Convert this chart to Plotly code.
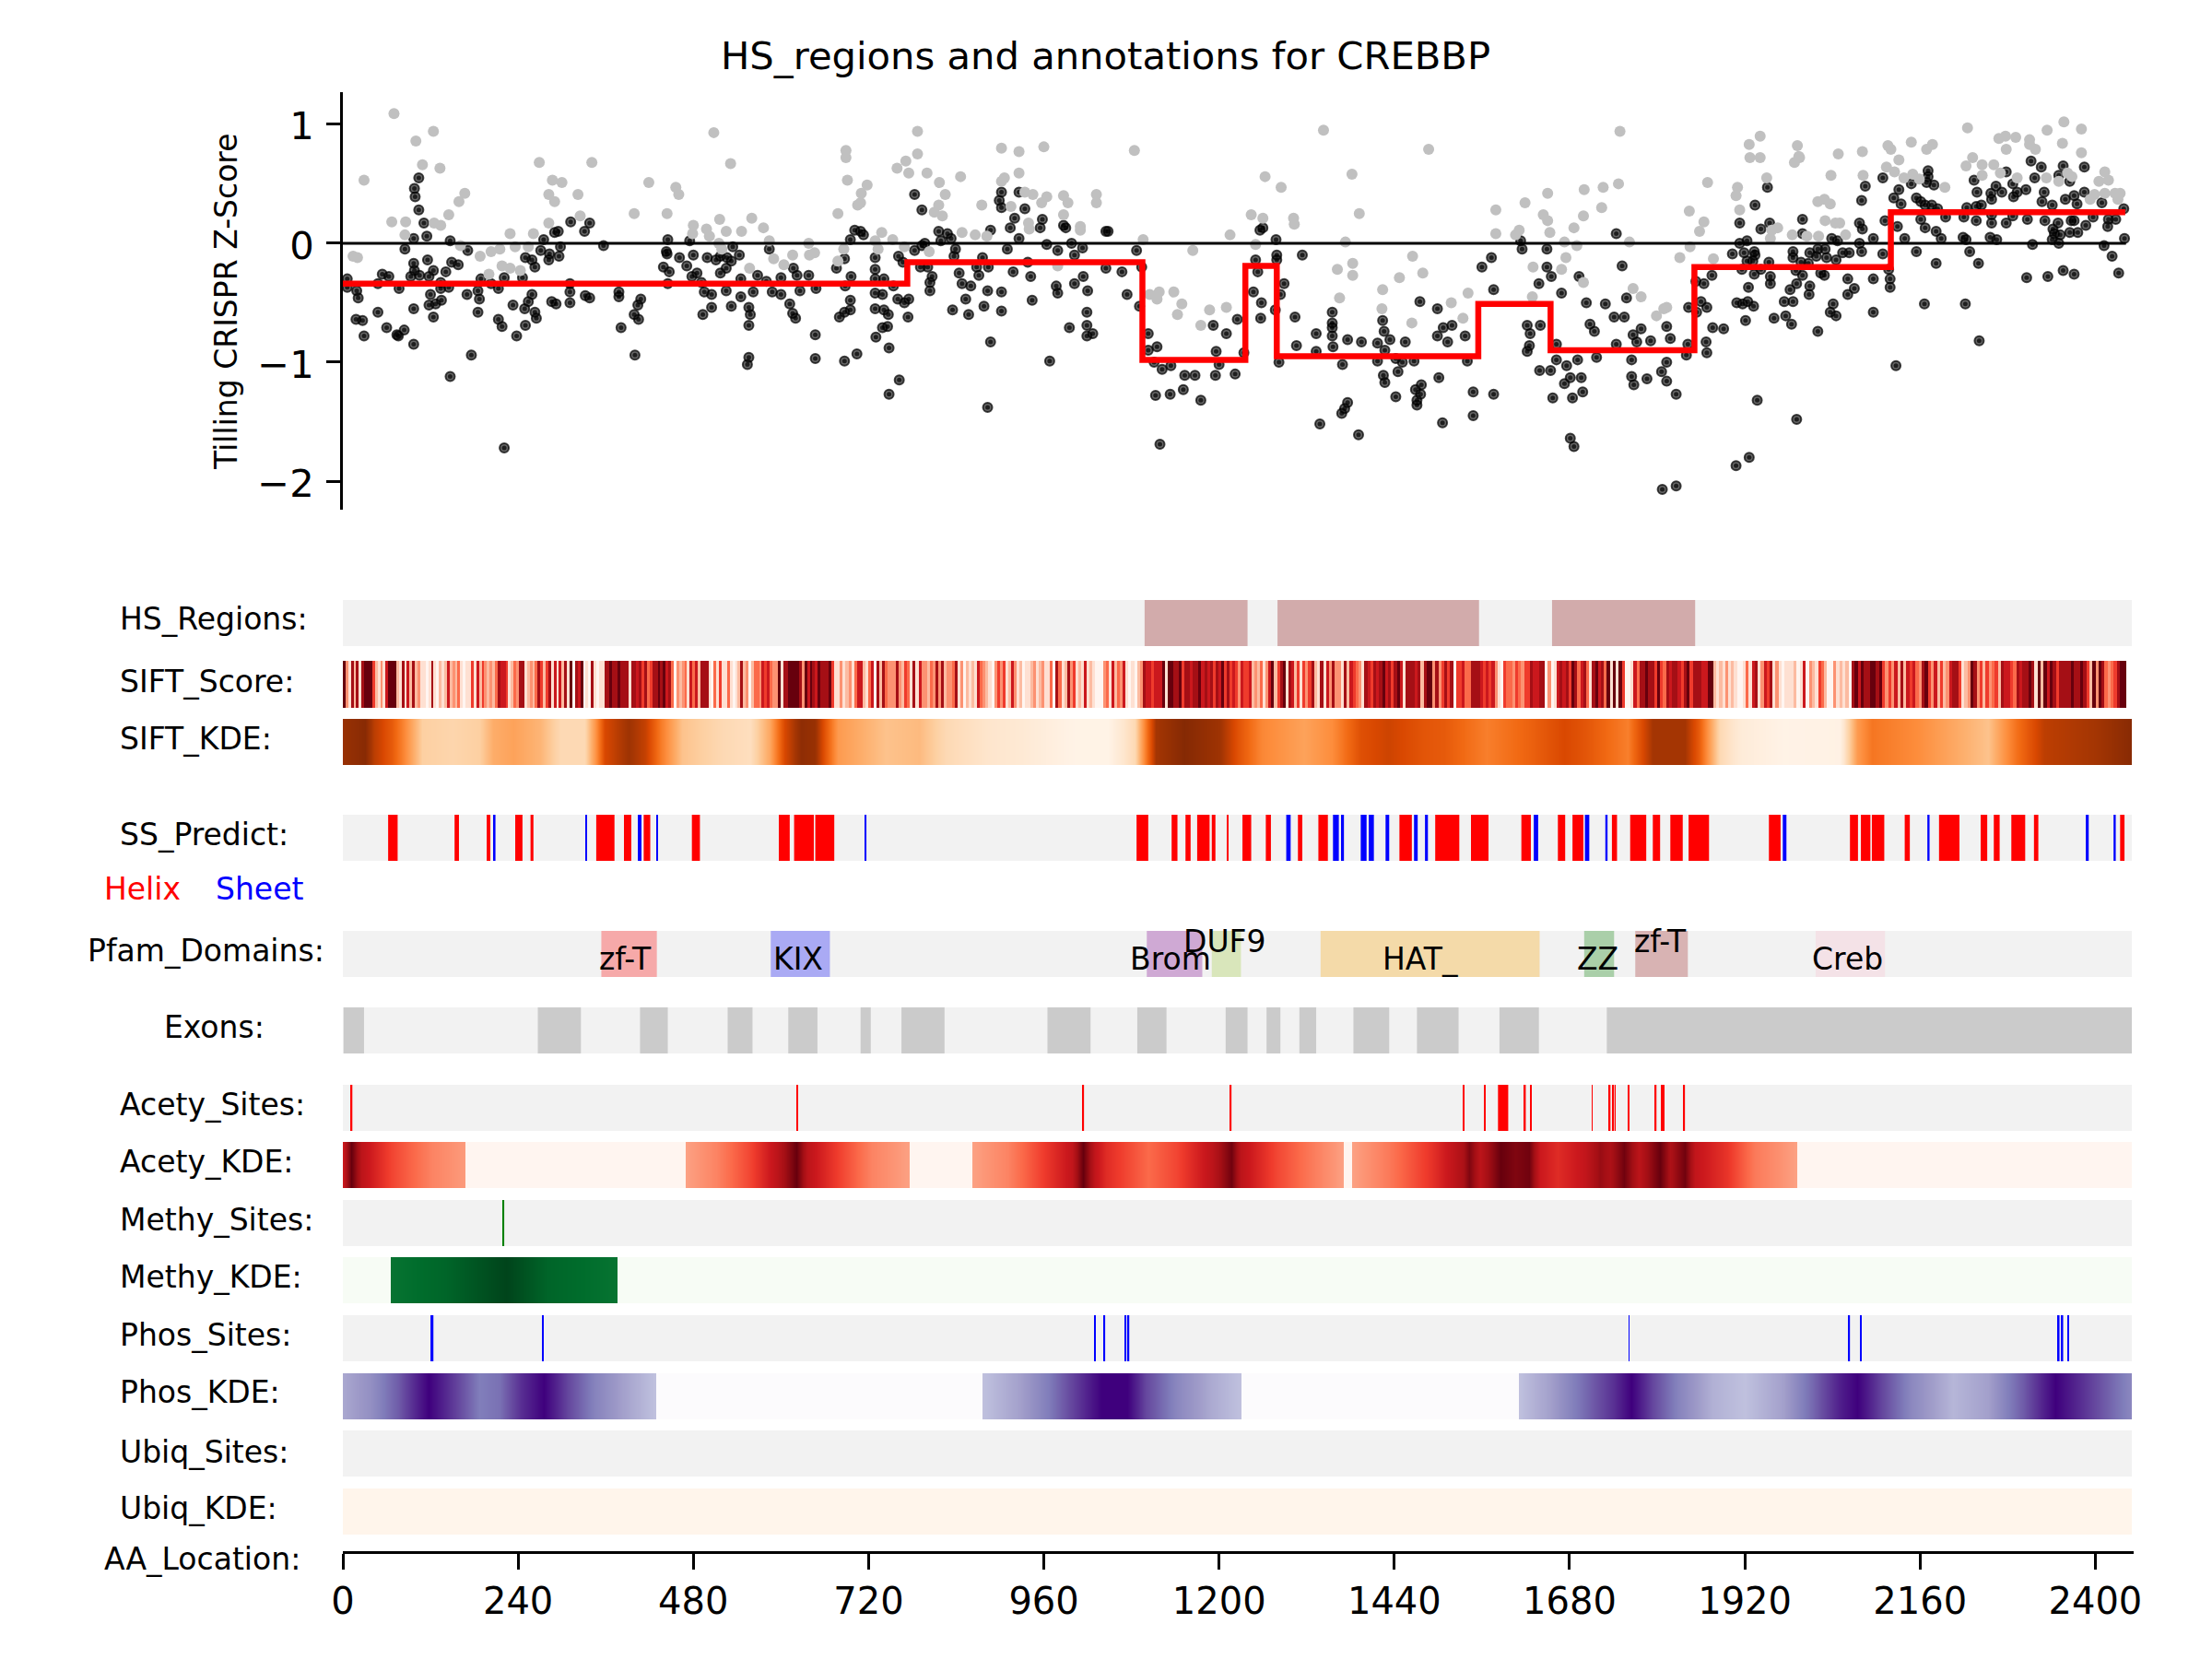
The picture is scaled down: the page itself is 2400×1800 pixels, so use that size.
import numpy as np
import plotly.graph_objects as go

TITLE = "HS_regions and annotations for CREBBP"
GENE_END = 2442
X_TICKS = [0, 240, 480, 720, 960, 1200, 1440, 1680, 1920, 2160, 2400]
Y_TICKS = [-2, -1, 0, 1]

BLACK_POINTS = [
(6,-.30),(6,-.37),(19,-.40),(21,-.46),(18,-.64),(27,-.65),(29,-.78),(48,-.58),(60,-.71),(74,-.77),(76,-.78),(84,-.73),(97,-.85),(97,-.55),(48,-.34),(54,-.26),(63,-.28),(77,-.38),(85,-.05),(97,.04),(115,.06),(111,.17),(104,.28),(99,.39),(98,.46),(104,.55),(116,-.14),(97,-.17),(98,-.23),(93,-.28),(105,-.27),(118,-.28),(124,-.23),(120,-.43),(118,-.52),(127,-.51),(135,-.48),(124,-.62),(134,-.33),(134,-.38),(145,-.37),(141,-.24),(149,-.16),(158,-.18),(147,.02),(171,-.06),(170,-.43),(147,-1.12),(176,-.94),(185,-.58),(187,-.47),(185,-.40),(189,-.30),(203,-.34),(213,-.38),(213,-.64),(218,-.70),(233,-.52),(238,-.78),(250,-.69),(249,-.55),(254,-.49),(259,-.43),(263,-.58),(265,-.63),(221,-1.72),(221,-.29),(246,-.29),(250,-.12),(259,-.14),(263,-.20),(271,-.06),(275,.03),(282,-.14),(283,-.09),(296,-.11),(298,-.03),(290,.09),(295,.10),(312,.18),(338,.17),(331,.10),(357,-.02),(311,-.34),(311,-.41),(311,-.50),(286,-.49),(292,-.51),(332,-.44),(338,-.46),(378,-.41),(378,-.45),(408,-.47),(404,-.52),(399,-.60),(405,-.64),(381,-.71),(400,-.94),
(439,-.20),(447,-.24),(445,-.34),(445,.03),(443,-.07),(444,-.09),(461,-.12),(471,-.19),(475,.02),(480,-.10),(478,-.28),(485,-.25),(491,-.33),(495,-.41),(505,-.43),(499,-.12),(511,-.14),(517,-.11),(526,-.12),(532,-.15),(534,-.03),(543,-.10),(517,-.25),(525,-.21),(525,-.40),(505,-.54),(493,-.60),(532,-.53),(545,-.30),(545,-.45),(562,-.41),(568,-.27),(556,-.54),(558,-.60),(556,-.69),(556,-.96),(554,-1.02),(580,-.32),(588,-.41),(600,-.29),(600,-.43),(612,-.51),(616,-.59),(620,-.63),(617,-.21),(622,-.27),(626,-.40),(638,-.27),(648,-.38),(584,-.05),(647,-.77),(647,-.97),(676,-.21),(687,-.13),(695,.03),(701,.11),(709,.10),(713,.07),(729,-.12),(729,-.22),(729,-.30),(696,-.28),(688,-.36),(695,-.48),(695,-.56),(680,-.62),(687,-.58),(687,-.99),(704,-.93),(730,-.79),(748,-.88),(762,-1.15),(748,-1.27),(739,-.71),(746,-.70),(729,-.55),(741,-.56),(747,-.60),(729,-.42),(739,-.43),(741,-.30),(754,-.36),(760,-.47),(769,-.50),(775,-.47),(774,-.62),(761,-.11),(767,-.16),
(783,.41),(793,.28),(783,-.06),(793,-.02),(797,.0),(791,-.20),(801,-.20),(807,-.28),(804,-.33),(804,-.40),(816,.10),(828,.08),(833,.04),(839,-.05),(837,-.11),(819,.02),(844,-.25),(848,-.34),(860,-.36),(871,-.27),(876,-.12),(868,-.20),(884,-.20),(887,.11),(853,-.47),(835,-.56),(857,-.60),(878,-.53),(883,-.40),(902,-.41),(902,-.57),(887,-.83),(883,-1.38),(918,-.24),(910,-.05),(926,.04),(938,-.16),(942,-.28),(944,-.48),(902,.43),(899,.36),(902,.30),(926,.43),(934,.29),(920,.21),(914,.13),(955,.13),(958,.20),(964,-.01),(979,-.06),(977,-.36),(979,-.42),(990,.13),(987,.15),(998,0),(1002,-.10),(1013,-.04),(1002,-.34),(1014,-.28),(1020,-.40),(1019,-.58),(995,-.71),(1019,-.69),(1019,-.78),(1027,-.76),(968,-.99),(1045,-.21),(1045,.10),
(1048,.10),(1067,-.24),(1087,-.06),(1094,-.20),(1074,-.43),(1091,-.53),(1103,-.76),(1115,-.87),(1103,-.90),(1111,-1.0),(1122,-1.06),(1134,-1.03),(1153,-1.11),(1167,-1.11),(1151,-1.23),(1133,-1.27),(1113,-1.28),(1175,-1.32),(1119,-1.69),(1192,-.69),(1210,-.76),(1225,-.64),(1196,-.91),(1234,-.92),(1200,-1.02),(1195,-1.11),(1222,-1.10),(1250,-.14),(1253,-.24),(1247,-.41),(1258,-.50),(1257,-.63),(1256,.11),(1260,.13),(1278,.03),(1279,-.10),(1279,-.14),(1314,-.10),(1289,-.34),(1284,-.43),(1277,-.56),(1304,-.62),(1306,-.86),(1282,-1.0),(1333,-.76),(1333,-.91),(1355,-.58),(1355,-.67),(1355,-.71),(1355,-.78),(1356,-.87),(1376,-.81),(1395,-.83),(1369,-1.02),(1417,-.84),(1417,-.99),(1424,-.65),(1426,-.74),(1434,-.81),(1427,-.90),(1455,-.83),(1442,-.97),(1451,-1.0),(1467,-.99),(1425,-1.11),(1427,-1.17),(1445,-1.08),(1501,-1.13),(1477,-1.19),(1469,-1.23),(1476,-1.27),(1471,-1.32),(1471,-1.36),(1442,-1.29),(1376,-1.34),(1372,-1.39),(1368,-1.43),(1338,-1.52),(1391,-1.61),(1506,-1.51),(1548,-1.45),(1548,-1.25),(1576,-1.27),(1475,-.49),(1499,-.55),(1519,-.69),(1507,-.71),(1499,-.78),(1513,-.83),(1537,-.78),(1540,-.99),(1560,-.20),(1573,-.12),(1576,-.39),
(1613,.02),(1615,-.05),(1622,-.69),(1626,-.76),(1640,-.69),(1625,-.86),(1622,-.91),(1649,-.05),(1649,-.20),(1655,-.28),(1638,-.34),(1693,-.28),(1669,-.42),(1703,-.50),(1729,-.51),(1662,-.85),(1662,-.98),(1676,-1.03),(1691,-.98),(1717,-.96),(1639,-1.07),(1654,-1.07),(1696,-1.13),(1681,-1.13),(1673,-1.18),(1698,-1.25),(1684,-1.30),(1657,-1.30),(1681,-1.64),(1686,-1.71),(1744,.08),(1752,-.19),(1758,-.46),(1708,-.68),(1714,-.74),(1741,-.62),(1755,-.62),(1767,-.77),(1772,-.83),(1778,-.72),(1744,-.85),(1791,-.82),(1813,-.70),(1818,-.80),(1765,-.98),(1765,-1.12),(1768,-1.19),(1786,-1.14),(1813,-1.0),(1806,-1.08),(1813,-1.16),(1826,-1.27),(1807,-2.07),(1826,-2.04),(1842,-.85),(1840,-.94),(1868,-.92),(1867,-.83),(1876,-.71),(1891,-.72),(1937,-1.32),(1991,-1.48),(1908,-1.87),(1926,-1.80),(1984,-.68),(2020,-.74),(2127,-1.03),
(1986,-.07),(1986,-.12),(1997,-.16),(2007,-.17),(2009,-.08),(2018,-.11),(2020,-.05),(2030,-.05),(2032,-.12),(2045,-.14),(2054,-.08),(2063,-.08),(2039,.04),(2047,.02),(2077,.0),(2080,-.07),(2096,.04),(2109,-.09),(1999,.08),(1999,.20),(1942,.12),(1954,.17),(1923,.02),(1913,0),(1903,-.09),(1919,-.08),(1933,-.07),(1934,-.10),(1931,-.15),(1923,-.15),(1953,-.16),(1916,-.22),(1933,-.26),(1942,-.22),(1990,-.23),(1999,-.27),(2024,-.25),(2029,-.27),(2117,-.22),(1955,-.28),(1955,-.34),(1925,-.37),(2009,-.36),(2008,-.43),(1991,-.34),(1982,-.39),(2061,-.30),(2070,-.38),(2061,-.43),(2096,-.30),(2119,-.30),(2119,-.37),(1864,-.34),(1875,-.27),(1853,-.32),(1860,-.49),(1868,-.54),(1843,-.54),(1854,-.58),(1909,-.50),(1917,-.51),(1924,-.49),(1932,-.53),(1974,-.49),(1986,-.49),(2041,-.51),(2037,-.58),(2045,-.61),(1960,-.63),(1976,-.61),(1921,-.65),(2096,-.58),
(1951,.47),(1934,.32),(1913,.17),(2109,.55),(2085,.48),(2080,.36),(2112,.19),(2131,.45),(2124,.38),(2134,.33),(2129,.14),(2139,.04),(2077,.17),(2081,.12),
(2155,.38),(2161,.35),(2167,.32),(2176,.32),(2184,.29),(2169,.51),(2171,.61),(2171,.56),(2179,.49),(2148,.50),(2161,.20),(2167,.13),(2182,.10),(2189,.04),(2195,.22),(2220,.22),(2224,.30),(2237,.31),(2244,.32),(2234,.53),(2238,.43),(2258,.37),(2257,.42),(2264,.48),(2272,.43),(2287,.50),(2288,.39),(2293,.43),(2305,.45),(2278,.60),(2317,.55),(2312,.69),(2326,.64),(2356,.65),(2385,.64),(2330,.43),(2327,.35),(2341,.32),(2359,.37),(2350,.57),(2365,.52),(2371,.40),(2385,.43),(2375,.33),(2237,.19),(2258,.24),(2258,.17),(2278,.17),(2287,.23),(2307,.20),(2331,.19),(2349,.17),(2342,.12),(2344,.08),(2352,.07),(2365,.09),(2376,.09),(2367,.19),(2371,.19),(2387,.15),(2397,.22),(2409,.34),(2418,.20),(2428,.20),(2417,.14),(2439,.29),(2256,.05),(2265,.03),(2219,.05),(2223,.03),(2314,-.01),(2341,.03),(2350,0),(2412,-.02),(2440,.04),(2155,-.07),(2228,-.07),(2182,-.17),(2240,-.17),(2423,-.11),(2356,-.23),(2371,-.26),(2432,-.25),(2306,-.29),(2335,-.28),(2166,-.51),(2222,-.51),(2241,-.82),
]

GRAY_POINTS = [
(70,1.09),(100,.86),(124,.94),(109,.66),(133,.63),(29,.53),(67,.18),(86,.18),(20,-.12),(14,-.11),(85,.07),(125,.17),(134,.15),(145,.24),(159,.35),(167,.42),(161,-.02),(188,-.11),(203,-.07),(215,-.05),(200,-.26),(218,-.19),(229,-.21),(243,-.23),(229,.08),(236,-.03),(254,-.03),(261,.08),(269,.68),(287,.53),(300,.51),(282,.41),(290,.35),(322,.41),(341,.68),(282,.17),(325,.23),(419,.51),(456,.47),(460,.41),(399,.25),(444,.25),(480,.15),(479,.08),(498,.12),(502,.06),(516,.20),(525,.10),(546,.10),(560,.21),(576,.13),(508,.93),(531,.67),(515,0),(519,-.05),(557,-.21),(584,.02),(590,-.13),(604,-.18),(616,-.10),(638,0),(639,-.10),(646,-.08),(678,.25),(689,.78),(689,.72),(691,.53),(718,.49),(710,.42),(709,.34),(705,.32),(678,-.15),(686,-.05),(729,.02),(738,.09),(753,.03),(733,-.05),(769,-.03),(759,.63),(771,.69),(787,.75),(787,.94),(775,.59),(800,.59),(817,.51),(825,.41),(846,.56),(816,.32),(810,.26),(821,.23),(848,.09),(866,.07),(882,.06),(803,-.07),(902,.80),(926,.77),(960,.81),(906,.55),(902,.52),(926,.59),(915,.31),(934,.43),(945,.41),(964,.39),(957,.34),(939,.17),(940,.12),(875,.32),(987,.40),(993,.34),(987,.24),(1010,.14),(1010,.11),(1032,.41),(1032,.34),(979,-.19),
(1084,.78),(1343,.95),(1487,.79),(1749,.94),(1263,.56),(1285,.47),(1382,.58),(1244,.24),(1260,.21),(1302,.21),(1303,.16),(1392,.25),(1215,.07),(1250,-.01),(1373,.01),(1164,-.06),(1096,.03),(1118,-.41),(1105,-.43),(1115,-.47),(1138,-.41),(1149,-.51),(1143,-.60),(1187,-.56),(1210,-.54),(1175,-.69),(1362,-.22),(1383,-.17),(1383,-.27),(1365,-.46),(1424,-.39),(1423,-.55),(1465,-.11),(1447,-.29),(1479,-.25),(1464,-.67),(1541,-.42),(1518,-.50),(1534,-.63),(1579,.28),(1619,.34),(1650,.42),(1579,.08),(1611,.11),(1606,.07),(1644,.24),(1650,.19),(1653,.09),(1686,.13),(1673,.01),(1690,-.02),(1675,-.12),(1630,-.20),(1669,-.22),(1629,-.45),(1699,-.33),(1700,.45),(1726,.47),(1747,.50),(1724,.30),(1699,.23),(1762,.01),(1767,-.38),(1778,-.45),(1799,-.61),(1813,-.54),(1809,-.55),(1831,-.12),
(1926,.83),(1941,.90),(1992,.82),(1994,.73),(2048,.75),(2081,.77),(2116,.82),(2120,.79),
(1869,.51),(1910,.47),(1908,.40),(1913,.28),(1844,.27),(1864,.18),(1858,.10),(1845,-.03),(1877,-.13),(1950,.55),(1957,.11),(1965,.13),(1955,.04),(1985,.07),(2005,.06),(2021,.06),(2030,.19),(2044,.17),(2050,.17),(2058,.07),(2020,.35),(2029,.37),(2037,.33),(2038,.57),(2082,.57),(2114,.64),(2125,.60),(2131,.70),(2138,.55),(1988,.68),(1995,.72),(1927,.72),(1941,.72),
(2225,.97),(2148,.85),(2169,.79),(2177,.83),(2232,.72),(2223,.65),(2245,.66),(2245,.57),(2261,.66),(2270,.59),(2268,.88),(2277,.90),(2278,.79),(2291,.89),(2310,.87),(2310,.83),(2318,.79),(2293,.55),(2334,.95),(2357,1.02),(2381,.96),(2355,.84),(2381,.76),(2333,.55),(2362,.59),(2368,.56),(2350,.52),(2413,.60),(2405,.52),(2418,.53),(2399,.41),(2393,.37),(2413,.42),(2427,.42),(2434,.42),(2431,.37),(2194,.47),(2150,.58),(2159,.54),
]

STEP_X = [0, 773, 1095, 1236, 1279, 1555, 1654, 1851, 2120, 2441]
STEP_Y = [-.34, -.16, -.98, -.19, -.95, -.51, -.90, -.20, .26, .26]

HS_REGIONS = [(1098, 1239), (1280, 1556), (1656, 1852)]

# stripes of the SIFT score strip, read block by block (colour level 0-8)
SIFT_SPANS = [(0, 654), (654, 1310), (1310, 1966), (1966, GENE_END)]
SIFT_LEVELS = [
"8317271788852131688821716272311017102126232410115162532324766512437712324752571616271807680107101177877877717767574577878674032341646277710415114101272302443656433817788887386876 8".replace(" ", ""),
"777851131231466214 60727433373254171633243737 23347 130 2121643 210 353 512 631 2011 23123 1140 7 412 7 351 216 121 0003 4162 436 101023 7665 666 81 887 78577677 86767 57685 75653 6556 2324136 825781 7625".replace(" ", ""),
"153572171637331 72654 31 765767 86757 861 777672 78837 35757 055 644 777656 56310 544354355 76677 0301 67675 87467 417 86748 18185 001 647787 75854 76776578 577766 88 21213121 001 4167 1365713".replace(" ", ""),
"10111201 60321 54200 312120 786877 88785 35362726 56437 8536252 36775 123 8735 253452 76654767 78718286 875 777 787787 52838 74345 788".replace(" ", ""),
]
SS_HELIX = [(62,75),(153,159),(197,202),(236,246),(257,261),(347,372),(385,395),(412,421),(478,489),(597,612),(618,645),(647,673),(1087,1103),(1135,1143),(1154,1161),(1170,1187),(1190,1195),(1211,1212),(1232,1244),(1264,1271),(1308,1314),(1336,1349),(1447,1464),(1496,1529),(1545,1569),(1614,1627),(1664,1674),(1684,1699),(1738,1745),(1763,1785),(1794,1804),(1818,1835),(1843,1871),(1953,1969),(2064,2075),(2079,2092),(2094,2111),(2139,2146),(2186,2214),(2243,2252),(2261,2269),(2285,2304),(2316,2322),(2434,2440)]
SS_SHEET = [(207,209),(332,334),(404,409),(430,431),(715,717),(1292,1298),(1356,1364),(1367,1371),(1394,1402),(1405,1412),(1428,1433),(1467,1472),(1482,1486),(1631,1637),(1701,1707),(1729,1732),(1972,1977),(2170,2173),(2387,2391),(2425,2428)]

PFAM_NAMES = ["zf-T", "KIX", "Brom", "DUF9", "HAT_", "ZZ", "zf-T", "Creb"]
PFAM_SPANS = [(354,430),(586,667),(1101,1177),(1190,1230),(1339,1639),(1700,1741),(1770,1842),(2017,2112)]
PFAM_COLORS = ["#f6a9a9","#aaaaf4","#cfa9d4","#d9e6bb","#f4daa9","#aacfa9","#d8b3b3","#f4e2e7"]
PFAM_LABEL_X = [387,623,1134,1208,1475,1719,1804,2061]
PFAM_LABEL_ROW = [.4,.4,.4,.78,.4,.4,.78,.4]

EXONS = [(1,29),(267,326),(407,445),(527,561),(610,650),(709,723),(765,824),(965,1024),(1088,1128),(1209,1239),(1265,1284),(1310,1333),(1384,1433),(1471,1528),(1584,1638),(1731,2450)]
ACETY_SITES = [(11,13),(621.5,622.5),(1013,1015),(1215,1217),(1534,1536),(1563,1565),(1582,1593),(1594,1596),(1618,1620),(1626,1628),(1710.5,1711.5),(1734,1736),(1739,1741),(1742,1743),(1760.5,1761.5),(1797,1799),(1806,1807),(1808,1810),(1836,1838)]
METHY_SITES = [(219,221)]
PHOS_SITES = [(120,124),(273,275),(1029,1031),(1042,1044),(1071,1073),(1075,1077),(1761,1762),(2062,2064),(2078,2080),(2349,2351),(2354,2356),(2362,2363)]

SIFT_KDE_X = [0,30,43,67,81,108,150,187,206,233,270,298,331,345,358,391,414,437,465,520,558,585,604,627,646,660,678,743,789,826,882,928,1002,1048,1084,1103,1113,1152,1200,1224,1258,1316,1355,1393,1432,1480,1509,1567,1625,1673,1702,1760,1794,1838,1857,1886,1915,1973,2050,2074,2094,2156,2205,2253,2292,2330,2398,2449,2450]
SIFT_KDE_Z = [.92,.97,.82,.68,.55,.25,.22,.25,.38,.42,.35,.2,.2,.45,.75,.9,.8,.55,.3,.2,.17,.4,.75,.95,.92,.7,.45,.3,.33,.2,.13,.1,.02,.02,.2,.65,.88,.98,.9,.72,.52,.42,.5,.72,.78,.7,.68,.55,.65,.75,.7,.55,.88,.88,.68,.2,.08,.02,.03,.45,.58,.5,.4,.3,.6,.82,.88,.97,.97]

ACETY_KDE_X = [0,11,25,67,122,167,168,468,469,511,558,595,621,636,678,724,775,776,861,862,910,965,998,1014,1030,1045,1103,1142,1190,1217,1229,1277,1326,1370,1371,1381,1382,1432,1490,1533,1543,1557,1586,1606,1625,1640,1664,1702,1722,1736,1755,1775,1804,1818,1838,1852,1896,1934,1991,1992,2449,2450]
ACETY_KDE_Z = [.75,1,.8,.6,.42,.35,0,0,.33,.42,.6,.8,1,.8,.62,.42,.33,0,0,.33,.42,.65,.78,1,.78,.68,.5,.6,.8,.98,.8,.6,.45,.33,0,0,.33,.45,.65,.85,.95,.8,1,.95,.98,.75,.68,.78,.9,.85,.98,.8,1,.85,.98,.78,.65,.45,.33,0,0,0]

METHY_KDE_X = [0,65,66,141,224,280,375,376,2449,2450]
METHY_KDE_Z = [0,0,.85,.9,1,.9,.85,0,0,0]

PHOS_KDE_X = [0,39,76,118,150,187,215,243,275,308,345,382,428,429,875,876,928,965,1011,1039,1074,1099,1142,1190,1230,1231,1609,1610,1654,1702,1741,1765,1794,1828,1876,1920,1973,2012,2050,2074,2108,2147,2205,2253,2301,2345,2388,2449,2450]
PHOS_KDE_Z = [.45,.55,.72,1,.82,.62,.66,.85,1,.78,.6,.48,.36,0,0,.36,.48,.62,.85,1,1,.78,.58,.44,.36,0,0,.36,.48,.68,.85,1,.78,.6,.42,.36,.48,.68,.9,1,.78,.58,.4,.48,.72,1,.82,.58,.58]

REDS = ["#fff5f0","#fee0d2","#fcbba1","#fc9272","#fb6a4a","#ef3b2c","#cb181d","#a50f15","#67000d"]
ORANGES = ["#fff5eb","#fee6ce","#fdd0a2","#fdae6b","#fd8d3c","#f16913","#d94801","#a63603","#7f2704"]
GREENS = ["#f7fcf5","#e5f5e0","#c7e9c0","#a1d99b","#74c476","#41ab5d","#238b45","#006d2c","#00441b"]
PURPLES = ["#fcfbfd","#efedf5","#dadaeb","#bcbddc","#9e9ac8","#807dba","#6a51a3","#54278f","#3f007d"]

# layout, in pixels of the 2400x1800 page
W, H = 2400, 1800
FONT = "DejaVu Sans"
BG = "#f2f2f2"
BANDS = {
    "hs": (651, 701), "score": (717, 768), "skde": (780, 830), "ss": (884, 934), "pfam": (1010, 1060),
    "exon": (1093, 1143), "asite": (1177, 1227), "akde": (1239, 1289), "msite": (1302, 1352),
    "mkde": (1364, 1414), "psite": (1427, 1477), "pkde": (1490, 1540), "usite": (1552, 1602), "ukde": (1615, 1665),
}
LABELS = [("HS_Regions:",128,672),("SIFT_Score:",128,739),("SIFT_KDE:",128,801),("SS_Predict:",128,906),
          ("Pfam_Domains:",92.5,1031),("Exons:",175.5,1114),("Acety_Sites:",128,1198),("Acety_KDE:",128,1260),
          ("Methy_Sites:",128,1323),("Methy_KDE:",128,1385),("Phos_Sites:",128,1448),("Phos_KDE:",128,1510),
          ("Ubiq_Sites:",128,1575),("Ubiq_KDE:",128,1636),("AA_Location:",110.5,1691)]

XMAX = 2450
fig = go.Figure()
layout = dict(
    width=W, height=H, margin=dict(l=0, r=0, t=0, b=0, pad=0, autoexpand=False), plot_bgcolor="white",
    paper_bgcolor="white", showlegend=False, barmode="overlay", hovermode=False,
    font=dict(family=FONT, color="black"),
    xaxis=dict(domain=[372/W, 2315/W], range=[0, XMAX * 2315/2312.6], anchor="free", position=1-1684/H,
               showgrid=False, zeroline=False, showline=True, linecolor="black", linewidth=3,
               ticks="outside", ticklen=17, tickwidth=3, tickcolor="black", tickvals=X_TICKS,
               tickfont=dict(size=40, family=FONT), ticktext=[str(t) for t in X_TICKS]),
    yaxis=dict(domain=[1-553/H, 1-100/H], range=[-2.24, 1.27], showgrid=False, zeroline=False, showline=True,
               linecolor="black", linewidth=3, ticks="outside", ticklen=15, tickwidth=3, tickcolor="black",
               tickvals=Y_TICKS, tickfont=dict(size=41.7, family=FONT), ticklabelstandoff=5, ticklabelshift=2),
)
axis_of = {}
for i, (k, (top, bot)) in enumerate(BANDS.items()):
    name = f"y{i+2}"
    axis_of[k] = name
    layout[f"yaxis{i+2}"] = dict(domain=[1-bot/H, 1-top/H], range=[0, 1], visible=False, fixedrange=True,
                                 anchor="x")

def bars(band, spans, color):
    spans = np.array(spans, dtype=float)
    fig.add_trace(go.Bar(x=spans.mean(axis=1), y=np.ones(len(spans)), base=0, width=spans[:, 1]-spans[:, 0],
                         marker=dict(color=color, line=dict(width=0)), yaxis=axis_of[band], xaxis="x"))

def scale(cols):
    return [[i/(len(cols)-1), c] for i, c in enumerate(cols)]

def kde(band, xs, zs, cols):
    fig.add_trace(go.Heatmap(x=xs, y=[0, 1], z=[zs, zs], zmin=0, zmax=1, colorscale=scale(cols), showscale=False,
                             zsmooth="best", yaxis=axis_of[band], xaxis="x"))

# top panel
black_x, black_y = zip(*BLACK_POINTS)
gray_x, gray_y = zip(*GRAY_POINTS)
fig.add_trace(go.Scatter(x=black_x, y=black_y, mode="markers",
                         marker=dict(size=10, color="rgba(0,0,0,0.6)", line=dict(width=2, color="rgba(0,0,0,0.72)"))))
fig.add_trace(go.Scatter(x=black_x, y=black_y, mode="markers",
                         marker=dict(size=5, color="rgba(0,0,0,0.7)", line=dict(width=0))))
fig.add_trace(go.Scatter(x=gray_x, y=gray_y, mode="markers", marker=dict(size=12, color="#c0c0c0", line=dict(width=0))))
fig.add_trace(go.Scatter(x=[0, GENE_END], y=[0, 0], mode="lines", line=dict(color="black", width=3)))
fig.add_trace(go.Scatter(x=STEP_X, y=STEP_Y, mode="lines", line=dict(color="#ff0000", width=6.5, shape="hv")))

# bands
full = [(0, XMAX)]
bars("hs", full, BG); bars("hs", HS_REGIONS, "#d2abab")

edges, levels = [], []
for (a, b), s in zip(SIFT_SPANS, SIFT_LEVELS):
    vals = [int(c) for c in s]
    edges.extend(np.linspace(a, b, len(vals)+1)[:-1])
    levels.extend(vals)
edges.append(GENE_END)
fig.add_trace(go.Heatmap(x=edges, y=[0, 1], z=[levels], zmin=0, zmax=8, colorscale=scale(REDS), showscale=False,
                         yaxis=axis_of["score"], xaxis="x"))
kde("skde", SIFT_KDE_X, SIFT_KDE_Z, ORANGES)

bars("ss", full, BG); bars("ss", SS_HELIX, "#ff0000"); bars("ss", SS_SHEET, "#0000ff")
bars("pfam", full, BG)
for span, col in zip(PFAM_SPANS, PFAM_COLORS):
    bars("pfam", [span], col)
bars("exon", full, BG); bars("exon", EXONS, "#cbcbcb")
bars("asite", full, BG); bars("asite", ACETY_SITES, "#ff0000")
kde("akde", ACETY_KDE_X, ACETY_KDE_Z, REDS)
bars("msite", full, BG); bars("msite", METHY_SITES, "#008000")
kde("mkde", METHY_KDE_X, METHY_KDE_Z, GREENS)
bars("psite", full, BG); bars("psite", PHOS_SITES, "#0000ff")
kde("pkde", PHOS_KDE_X, PHOS_KDE_Z, PURPLES)
bars("usite", full, BG)
bars("ukde", full, ORANGES[0])

ann = [dict(text=TITLE, x=1199/W, y=1-61/H, xref="paper", yref="paper", showarrow=False, xanchor="center",
            yanchor="middle", font=dict(size=41.7, family=FONT)),
       dict(text="Tilling CRISPR Z-Score", x=246/W, y=1-327/H, xref="paper", yref="paper", showarrow=False,
            textangle=-90, xanchor="center", yanchor="middle", font=dict(size=33, family=FONT)),
       dict(text="Helix", x=110.5/W, y=1-964/H, xref="paper", yref="paper", showarrow=False, xanchor="left",
            yanchor="middle", font=dict(size=33, family=FONT, color="#ff0000")),
       dict(text="Sheet", x=231.5/W, y=1-964/H, xref="paper", yref="paper", showarrow=False, xanchor="left",
            yanchor="middle", font=dict(size=33, family=FONT, color="#0000ff"))]
for text, x, y in LABELS:
    ann.append(dict(text=text, x=x/W, y=1-y/H, xref="paper", yref="paper", showarrow=False, xanchor="left",
                    yanchor="middle", font=dict(size=33, family=FONT)))
for name, x, row in zip(PFAM_NAMES, PFAM_LABEL_X, PFAM_LABEL_ROW):
    ann.append(dict(text=name, x=x, y=row, xref="x", yref=axis_of["pfam"], showarrow=False, xanchor="center",
                    yanchor="middle", font=dict(size=33, family=FONT)))
layout["annotations"] = ann
fig.update_layout(**layout)
fig.write_html("out.html", config={"displayModeBar": False}, post_script="document.body.style.margin='0';")
